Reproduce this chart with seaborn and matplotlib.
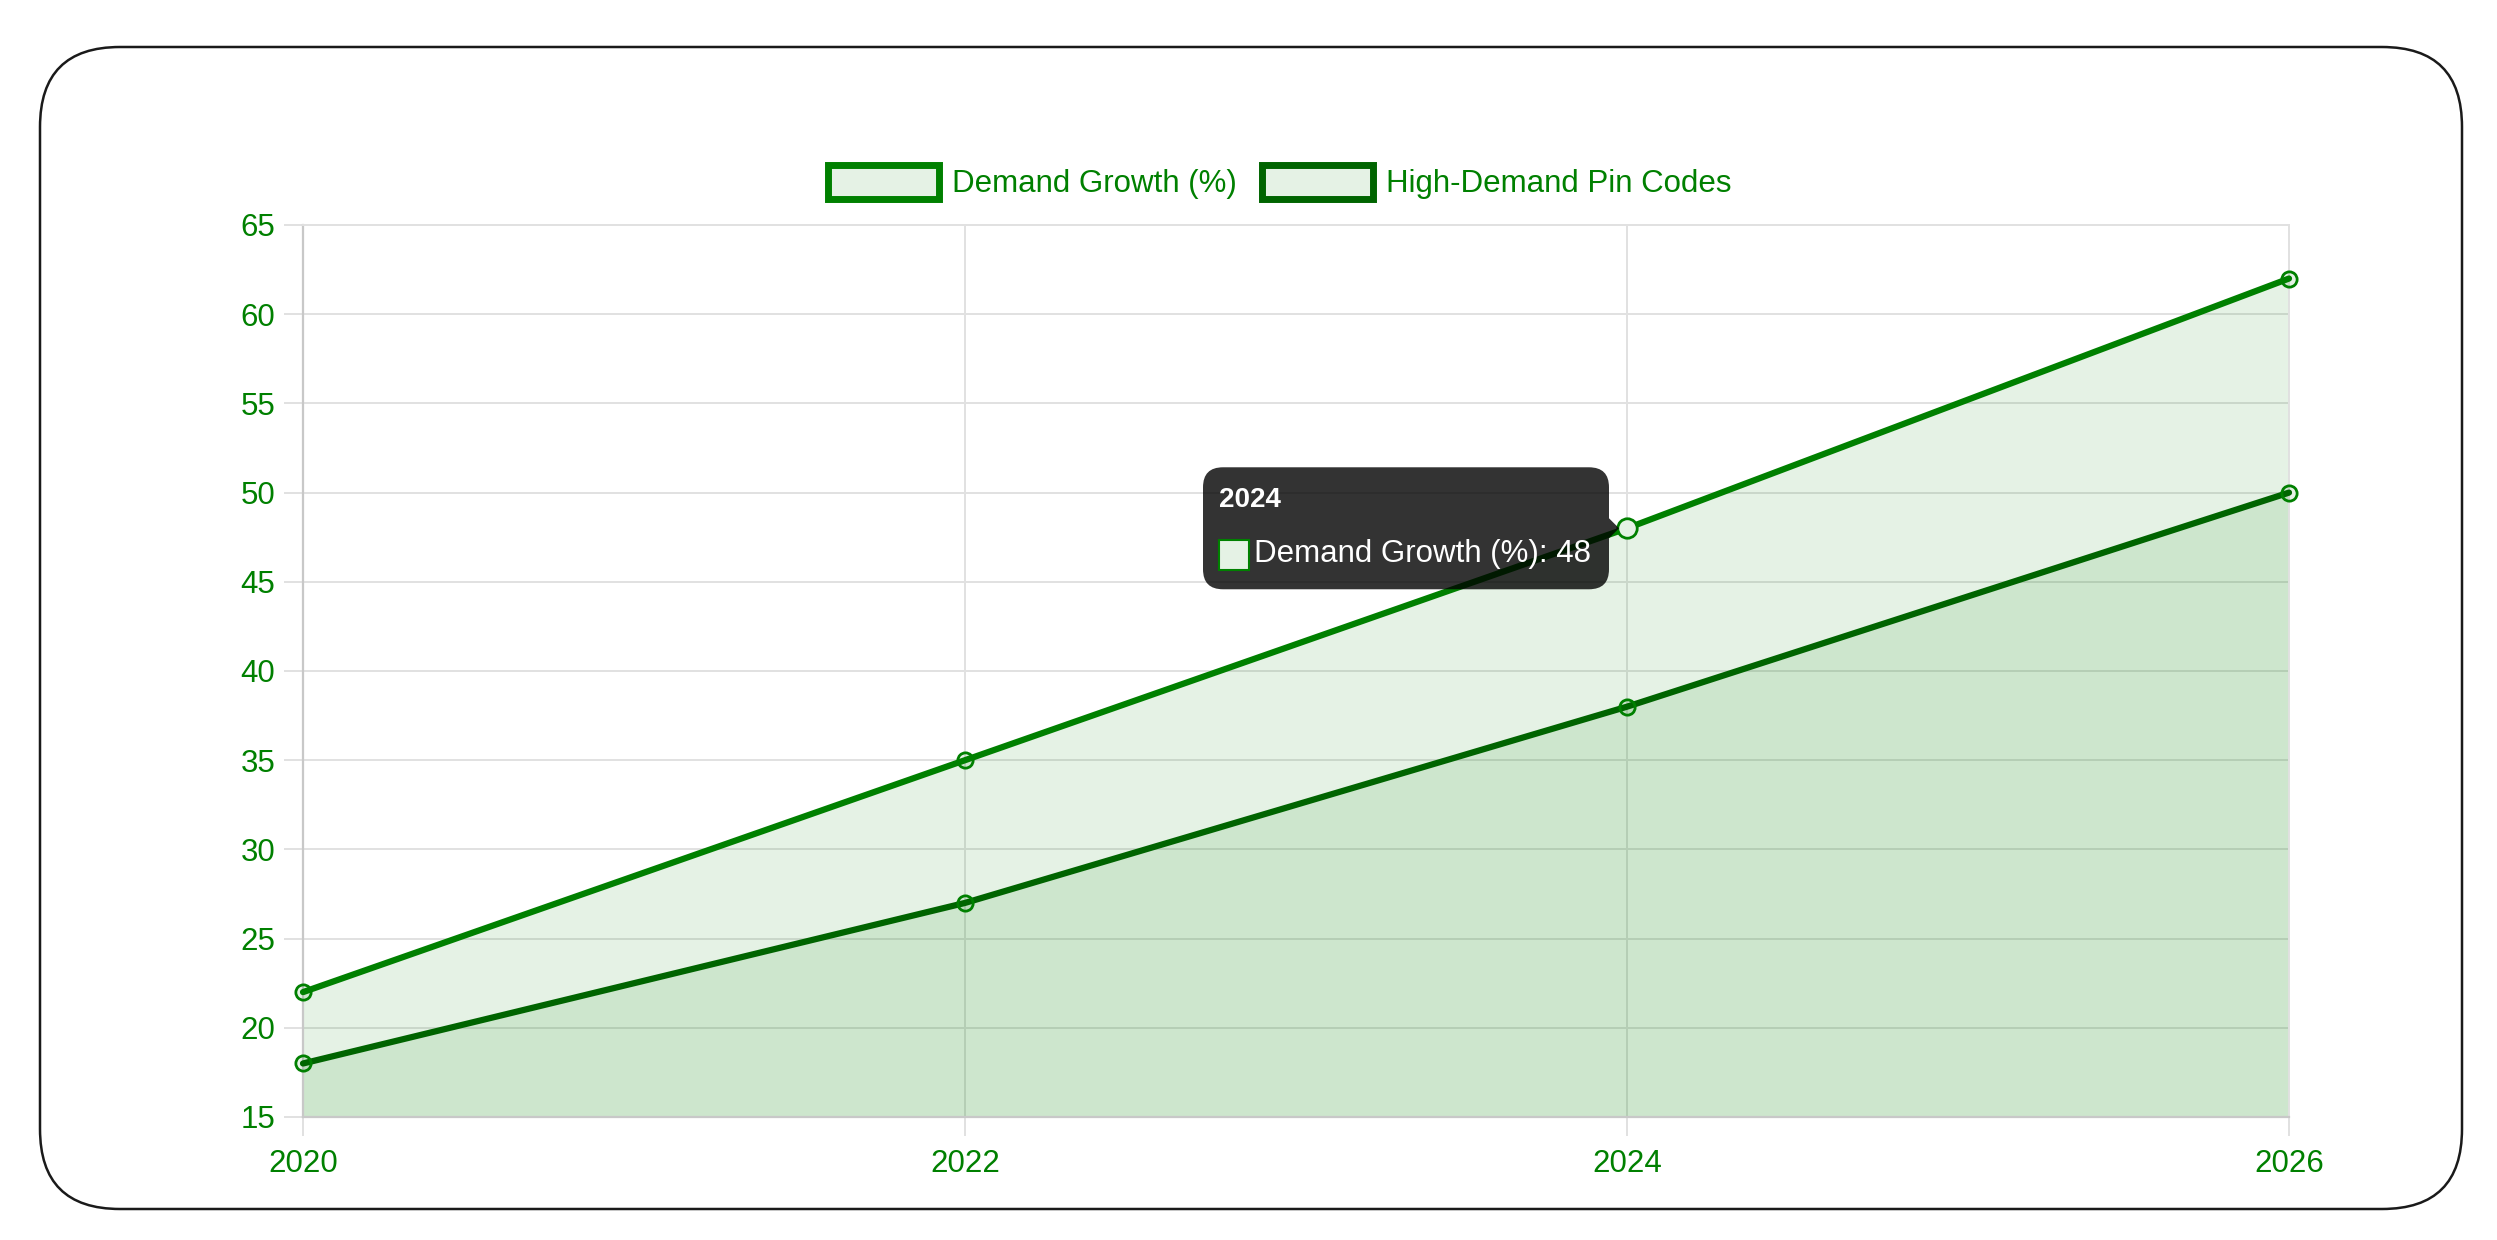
import numpy as np
import pandas as pd
import seaborn as sns
import matplotlib.pyplot as plt
from matplotlib.patches import FancyBboxPatch, Patch, Polygon

# data
years = [2020, 2022, 2024, 2026]
demand_growth = [22, 35, 48, 62]
pin_codes = [18, 27, 38, 50]
y_ticks = [15, 20, 25, 30, 35, 40, 45, 50, 55, 60, 65]
tooltip_title = "2024"
tooltip_label = "Demand Growth (%): 48"

W, H = 2497, 1240
GREEN = "#008000"
DARK = "#006400"
FILL = (0, 0.5, 0, 0.1)
GRID = "#e1e1e1"

sns.set_theme(style="white")
plt.rcParams["font.family"] = ["Liberation Sans", "DejaVu Sans"]

df = pd.DataFrame({"year": years, "growth": demand_growth, "pins": pin_codes})

fig = plt.figure(figsize=(W / 100, H / 100), dpi=100)
fig.patch.set_facecolor("white")

# rounded frame around the whole card
frame = FancyBboxPatch((40 / W, 1 - 1209 / H), (2462 - 40) / W, (1209 - 47) / H,
                       boxstyle="round,pad=0,rounding_size=0.032",
                       transform=fig.transFigure, facecolor="none",
                       edgecolor="#1a1a1a", linewidth=1.8, mutation_aspect=W / H,
                       zorder=-1)
fig.add_artist(frame)

ax = fig.add_axes([303 / W, 1 - 1117 / H, (2289 - 303) / W, (1117 - 225) / H])
ax.set_facecolor("none")

ax.fill_between(df["year"], df["growth"], 15, color=FILL, linewidth=0, zorder=1)
ax.fill_between(df["year"], df["pins"], 15, color=FILL, linewidth=0, zorder=1)

sns.lineplot(data=df, x="year", y="growth", ax=ax, color=GREEN, linewidth=4.5,
             marker="o", markersize=11, markerfacecolor=(0, 0.5, 0, 0.1),
             markeredgecolor=GREEN, markeredgewidth=2, zorder=3, clip_on=False)
sns.lineplot(data=df, x="year", y="pins", ax=ax, color=DARK, linewidth=4.5,
             marker="o", markersize=11, markerfacecolor=(0, 0.5, 0, 0.1),
             markeredgecolor=GREEN, markeredgewidth=2, zorder=3, clip_on=False)
# hovered point drawn a bit bigger
ax.plot([years[2]], [demand_growth[2]], "o", markersize=14, markerfacecolor="#e5f2e5",
        markeredgecolor=GREEN, markeredgewidth=2, zorder=4)

ax.set_xlim(years[0], years[-1])
ax.set_ylim(y_ticks[0], y_ticks[-1])
ax.set_xticks(years)
ax.set_yticks(y_ticks)
ax.set_xlabel("")
ax.set_ylabel("")
ax.grid(True, color=GRID, linewidth=1.4, zorder=0)
ax.set_axisbelow(True)
for side in ["top", "right"]:
    ax.spines[side].set_color(GRID)
    ax.spines[side].set_linewidth(1.4)
for side in ["left", "bottom"]:
    ax.spines[side].set_color("#c8c8c8")
    ax.spines[side].set_linewidth(1.6)
ax.tick_params(axis="both", bottom=True, left=True, colors=GRID, length=14, width=1.4,
               labelsize=22.5, labelcolor=GREEN)
ax.tick_params(axis="y", pad=6)
ax.tick_params(axis="x", pad=9)

# legend
handles = [Patch(facecolor="#e5f2e5", edgecolor=GREEN, linewidth=5, label="Demand Growth (%)"),
           Patch(facecolor="#e5f2e5", edgecolor=DARK, linewidth=5, label="High-Demand Pin Codes")]
leg = fig.legend(handles=handles, loc="center", bbox_to_anchor=(1280 / W, 1 - 182 / H),
                 ncol=2, frameon=False, fontsize=22.5, handlelength=3.55, handleheight=1.3,
                 handletextpad=0.42, columnspacing=0.8, borderpad=0)
for t in leg.get_texts():
    t.set_color(GREEN)

# tooltip anchored at the hovered point
fig.canvas.draw()
px, py = ax.transData.transform((years[2], demand_growth[2]))
py = H - py


def fxy(x, y):
    return x / W, 1 - y / H


bx0, bx1 = px - 424, px - 18
by0, by1 = py - 61, py + 61
tip = FancyBboxPatch(fxy(bx0, by1), (bx1 - bx0) / W, (by1 - by0) / H,
                     boxstyle="round,pad=0,rounding_size=0.008",
                     transform=fig.transFigure, facecolor=(0, 0, 0, 0.8),
                     edgecolor="none", mutation_aspect=W / H, zorder=10)
fig.add_artist(tip)
caret = Polygon([fxy(bx1, py - 10), fxy(bx1 + 10, py), fxy(bx1, py + 10)],
                closed=True, transform=fig.transFigure, facecolor=(0, 0, 0, 0.8),
                edgecolor="none", zorder=10)
fig.add_artist(caret)
fig.text(*fxy(bx0 + 16, by0 + 33), tooltip_title, color="white", fontsize=20,
         fontweight="bold", va="center", ha="left", zorder=11)
sw = FancyBboxPatch(fxy(bx0 + 16, by0 + 103), 30 / W, 30 / H, boxstyle="square,pad=0",
                    transform=fig.transFigure, facecolor="#e5f2e5", edgecolor=GREEN,
                    linewidth=1.5, zorder=11)
fig.add_artist(sw)
fig.text(*fxy(bx0 + 51, by0 + 87), tooltip_label, color="white", fontsize=22.5,
         va="center", ha="left", zorder=11)

fig.savefig("out.png", dpi=100, facecolor="white")
